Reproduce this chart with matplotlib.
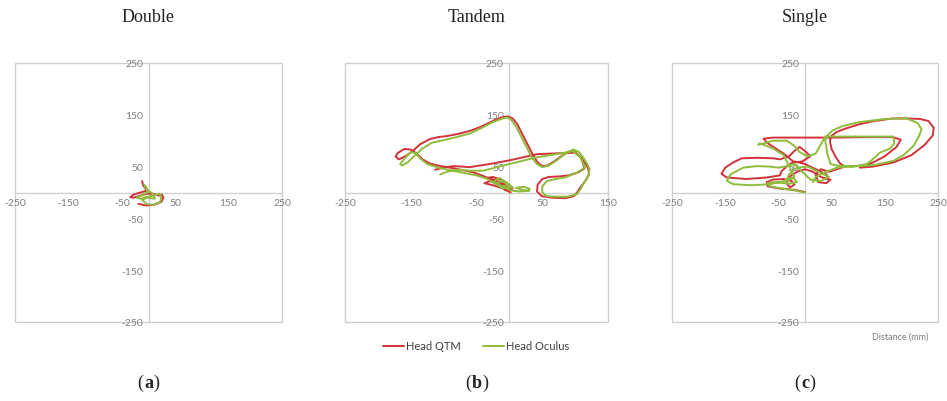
import matplotlib
matplotlib.use("Agg")
import matplotlib.pyplot as plt
from matplotlib.patches import Rectangle
from matplotlib.offsetbox import TextArea, HPacker, AnchoredOffsetbox

# ---- head trajectories (mm) ----
double_qtm_x = [-12, -10, -6, -2, -15, -28, -34, -28, -15, -2, 10, 20, 25, 28, 24, 10, -5, -19]
double_qtm_y = [22, 14, 8, 4, 0, -4, -9, -10, -6, -2, -3, -6, -4, -10, -18, -24, -25, -22]
double_ocu_x = [-8, -4, 0, -10, -22, -15, -2, 10, 20, 24, 22, 8, -4, -12, -2, 12, 8, -2, -6]
double_ocu_y = [15, 8, 2, -4, -10, -12, -8, -6, -2, -8, -18, -24, -22, -14, -10, -12, -2, 4, 12]

tandem_qtm_x = [2, -10, -25, -38, -30, -15, -5, 0, -8, -22, -35, -25, -12, -2, 5, -5, -18,
                -29, -40, -55, -70, -90, -105,
                -121, -132, -142, -150, -160, -170, -173, -168, -158, -147, -136, -121, -108,
                -95, -78, -60, -45, -35, -22, -12, -2, 5, 12, 20, 28, 36, 43, 50, 58, 68, 80,
                92, 100, 108, 115, 120, 121, 116, 108, 103, 98, 85, 65, 49, 42, 43, 50, 60, 75,
                90, 105, 114, 110, 100, 80, 42, 0, -30, -60, -85, -100, -113]
tandem_qtm_y = [0, 8, 14, 18, 22, 18, 12, 6, 16, 24, 28, 30, 24, 16, 8, 4, 15,
                26, 32, 39, 43, 48, 51,
                56, 64, 76, 83, 84, 76, 69, 64, 70, 80, 93, 103, 107,
                109, 113, 119, 126, 132, 140, 145, 147, 143, 132, 112, 92, 72, 58, 51, 52, 60, 71,
                80, 78, 68, 57, 46, 35, 23, 10, 0, -7, -11, -10, -7, 2, 15, 26, 30, 31,
                33, 39, 46, 66, 77, 76, 74, 62, 55, 49, 51, 48, 44]
tandem_ocu_x = [30, 20, 10, 22, 31, 28, 15, 2, -8, -20, -10, 0, -12, -25, -15, -5, 5, -10,
                -25, -35, -50, -70, -90, -108, -125,
                -135, -143, -150, -160, -166, -163, -155, -145, -132, -118, -100, -80, -60, -40,
                -25, -10, -3, 3, 10, 18, 26, 34, 42, 50, 60, 72, 85, 97, 105, 112, 118, 122, 120,
                114, 108, 103, 88, 68, 57, 50, 50, 57, 70, 85, 102, 115, 108, 97, 80, 42, 0, -40,
                -60, -80, -95, -105]
tandem_ocu_y = [3, 5, 9, 11, 7, 3, 2, 4, 10, 18, 22, 14, 12, 20, 28, 20, 10, 8,
                20, 27, 33, 38, 43, 48, 55,
                65, 76, 78, 65, 55, 52, 58, 70, 85, 96, 101, 107, 114, 126,
                136, 143, 145, 140, 128, 108, 88, 68, 55, 49, 52, 62, 75, 83, 79, 68, 56, 45, 32,
                20, 6, -3, -8, -8, -7, 0, 12, 22, 26, 29, 38, 48, 68, 80, 76, 68, 55, 42,
                42, 44, 40, 35]

single_qtm_x = [0, -20, -50, -70, -72, -60, -40, -25, -20, -28, -35, -30, -15, 0, 15, 30, 45,
                40, 20, 0, -20, -35, -45, -47, -72, -110, -147, -157, -150, -135, -119, -90, -60,
                -47, -30, -20, -10, 0, 10, -5, -20, -40, -55, -70, -78, -60, 0, 60, 120, 165, 180,
                172, 150, 128, 103, 128, 166, 200, 225, 240, 242, 232, 216, 190, 166, 130, 103,
                75, 60, 48, 47, 50, 58, 66, 75, 60, 45, 30, 20, 25, 40, 48]
single_qtm_y = [1, 5, 8, 12, 20, 25, 26, 22, 15, 10, 18, 30, 40, 45, 40, 30, 25,
                35, 45, 55, 60, 50, 40, 33, 29, 26, 29, 36, 48, 58, 66, 67, 66,
                64, 70, 80, 88, 80, 70, 60, 58, 75, 85, 95, 104, 106, 106, 106, 107, 107, 102,
                88, 70, 58, 48, 50, 58, 72, 92, 110, 125, 138, 142, 143, 143, 138, 132,
                123, 117, 108, 98, 84, 68, 56, 50, 45, 40, 45, 35, 20, 18, 25]
single_ocu_x = [0, -20, -45, -66, -70, -60, -30, -15, -22, -35, -30, -15, 5, 25, 45, 30, 10,
                -5, -20, -38, -50, -66, -90, -116, -140, -147, -135, -100, -66, -40, -20, -40,
                -60, -85, -88, -60, -34, -20, -10, 5, 20, 38, 80, 130, 166, 168, 160, 141, 125,
                116, 90, 60, 48, 42, 38, 41, 52, 70, 103, 150, 191, 212, 219, 214, 204, 185, 166,
                130, 103, 80, 60, 40, 20, 15]
single_ocu_y = [0, 4, 8, 12, 18, 20, 17, 20, 28, 22, 35, 48, 50, 40, 30, 22, 25,
                40, 55, 50, 48, 50, 51, 48, 35, 23, 16, 14, 16, 22, 30, 72,
                85, 95, 92, 100, 100, 90, 78, 70, 75, 108, 108, 108, 108, 95, 85, 77, 62,
                55, 50, 52, 55, 75, 100, 109, 120, 128, 136, 142, 143, 134, 122, 108, 90, 72, 61,
                53, 51, 50, 48, 40, 30, 20]

panels = [
    ("Double", "a", (-250, 250), [-250, -150, -50, 50, 150, 250],
     double_qtm_x, double_qtm_y, double_ocu_x, double_ocu_y),
    ("Tandem", "b", (-250, 150), [-250, -150, -50, 50, 150],
     tandem_qtm_x, tandem_qtm_y, tandem_ocu_x, tandem_ocu_y),
    ("Single", "c", (-250, 250), [-250, -150, -50, 50, 150, 250],
     single_qtm_x, single_qtm_y, single_ocu_x, single_ocu_y),
]
y_ticks = [-250, -150, -50, 50, 150, 250]

RED = "#d2323a"
GREEN = "#8fbc3c"
GRID = "#d0d0d0"
TICK = "#7f7f7f"
INK = "#222222"

W, H = 947, 402
fig = plt.figure(figsize=(W / 100, H / 100), dpi=100)

boxes = [(15, 282), (345, 608), (672, 938)]
top_px, bot_px = 64, 323

serif = {"family": "Liberation Serif", "size": 13, "color": INK}
handles = None
for (title, letter, xlim, xt, qx, qy, ox, oy), (l, r) in zip(panels, boxes):
    ax = fig.add_axes([l / W, 1 - bot_px / H, (r - l) / W, (bot_px - top_px) / H])
    ax.set_xlim(*xlim)
    ax.set_ylim(-250, 250)
    for side in ("top", "right"):
        ax.spines[side].set_visible(False)
    ax.spines["left"].set_position(("data", 0))
    ax.spines["bottom"].set_position(("data", 0))
    for side in ("left", "bottom"):
        ax.spines[side].set_color(GRID)
        ax.spines[side].set_linewidth(1.0)
    ax.add_patch(Rectangle((0, 0), 1, 1, transform=ax.transAxes, fill=False,
                           edgecolor=GRID, linewidth=1.0, clip_on=False, zorder=0.5))
    ax.set_xticks(xt)
    ax.set_yticks(y_ticks)
    ax.set_xticklabels([str(v) for v in xt])
    ax.set_yticklabels([str(v) for v in y_ticks])
    ax.tick_params(length=0, labelsize=7.5, labelcolor=TICK, pad=4)
    for lab in ax.get_xticklabels() + ax.get_yticklabels():
        lab.set_family("Lato")

    l1, = ax.plot(qx, qy, color=RED, lw=1.4, solid_joinstyle="round",
                  solid_capstyle="round", label="Head QTM", zorder=3)
    l2, = ax.plot(ox, oy, color=GREEN, lw=1.4, solid_joinstyle="round",
                  solid_capstyle="round", label="Head Oculus", zorder=4)
    handles = [l1, l2]

    cx = (l + r) / 2 / W
    fig.text(cx, 1 - 18 / H, title, ha="center", va="center", **serif)

    # sub-panel tag "(x)" with a bold letter
    parts = [TextArea("(", textprops=serif),
             TextArea(letter, textprops=dict(serif, weight="bold")),
             TextArea(")", textprops=serif)]
    box = HPacker(children=parts, pad=0, sep=0.5, align="baseline")
    fig.add_artist(AnchoredOffsetbox(loc="center", child=box, frameon=False, pad=0,
                                     borderpad=0, bbox_to_anchor=(cx, 1 - 383 / H),
                                     bbox_transform=fig.transFigure))

fig.legend(handles, ["Head QTM", "Head Oculus"], loc="center",
           bbox_to_anchor=(476 / W, 1 - 347 / H), ncol=2, frameon=False,
           prop={"family": "Lato", "size": 8}, handlelength=1.9,
           handletextpad=0.2, columnspacing=2.0, labelcolor="#404040")
fig.text(900 / W, 1 - 337 / H, "Distance (mm)", ha="center", va="center",
         family="Lato", fontsize=6.5, color=TICK)

fig.savefig("out.png", dpi=100)
